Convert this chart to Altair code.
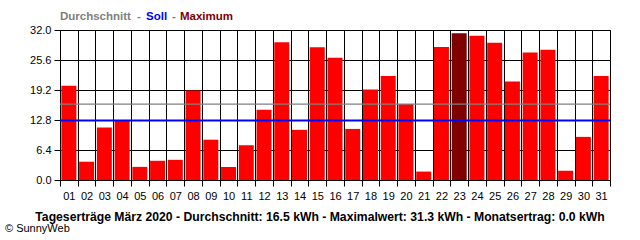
import altair as alt
import pandas as pd

days = [f"{i:02d}" for i in range(1, 32)]
values = [20.1, 3.9, 11.2, 12.7, 2.8, 4.1, 4.3, 19.1, 8.6, 2.8, 7.4, 15.0, 29.4, 10.7, 28.3,
          26.1, 10.9, 19.3, 22.2, 16.2, 1.8, 28.4, 31.3, 30.8, 29.3, 21.0, 27.2, 27.8, 2.0, 9.2, 22.2]
average_level = [16.2]
target_level = [12.7]
y_ticks = [0.0, 6.4, 12.8, 19.2, 25.6, 32.0]

legend_parts = ["Durchschnitt", "-", "Soll", "-", "Maximum"]
legend_colors = ["#808080", "#808080", "#0000ff", "#808080", "#800000"]
legend_x = [0, 77, 86, 112, 120]

bottom_title = "Tageserträge März 2020 - Durchschnitt: 16.5 kWh - Maximalwert: 31.3 kWh - Monatsertrag: 0.0 kWh"
credit = "© SunnyWeb"

vmax = max(values)
df = pd.DataFrame({"day": days, "value": values,
                   "kind": ["max" if v == vmax else "normal" for v in values]})

FONT = "Liberation Sans"

y_axis = alt.Axis(title=None, values=y_ticks, tickCount=20, format=".1f", grid=True,
                  gridColor="black", gridOpacity=1, gridWidth=1,
                  tickColor="black", tickSize=6, labelPadding=3,
                  labelFont=FONT, labelFontSize=11, labelColor="black",
                  domainColor="black", labelOverlap=False)
y_scale = alt.Scale(domain=[0, 32], nice=False, zero=True)

bars = alt.Chart(df).mark_bar(width={"band": 0.845}).encode(
    x=alt.X("day:N", sort=days,
            scale=alt.Scale(paddingInner=0, paddingOuter=0),
            axis=alt.Axis(title=None, tickBand="extent", labelAngle=0, grid=True,
                          gridColor="black", gridOpacity=1, gridWidth=1,
                          tickColor="black", tickSize=6, labelPadding=4,
                          labelFont=FONT, labelFontSize=11, labelColor="black",
                          domainColor="black", labelOverlap=False)),
    y=alt.Y("value:Q", scale=y_scale, axis=y_axis),
    color=alt.Color("kind:N", scale=alt.Scale(domain=["normal", "max"], range=["#ff0000", "#800000"]),
                    legend=None),
)

avg_rule = alt.Chart(pd.DataFrame({"y": average_level})).mark_rule(
    color="#808080", strokeWidth=1.2).encode(y=alt.Y("y:Q", scale=y_scale, axis=y_axis))
soll_rule = alt.Chart(pd.DataFrame({"y": target_level})).mark_rule(
    color="#0000ff", strokeWidth=2).encode(y=alt.Y("y:Q", scale=y_scale, axis=y_axis))

legend_df = pd.DataFrame({"t": legend_parts, "c": legend_colors, "px": legend_x})
legend_text = alt.Chart(legend_df).mark_text(
    font=FONT, fontSize=11.5, fontWeight="bold", align="left", baseline="alphabetic"
).encode(
    x=alt.X("px:Q", scale=None), y=alt.value(-10), text="t:N",
    color=alt.Color("c:N", scale=None),
)

title_text = alt.Chart(pd.DataFrame({"t": [bottom_title]})).mark_text(
    font=FONT, fontSize=12.2, fontWeight="bold", align="center", baseline="alphabetic", color="black"
).encode(x=alt.value(260), y=alt.value(191), text="t:N")

credit_text = alt.Chart(pd.DataFrame({"t": [credit]})).mark_text(
    font=FONT, fontSize=11, align="left", baseline="alphabetic", color="black"
).encode(x=alt.value(-55), y=alt.value(202), text="t:N")

chart = alt.layer(bars, avg_rule, soll_rule, legend_text, title_text, credit_text).properties(
    width=550, height=150,
    padding={"left": 60, "top": 30, "right": 30, "bottom": 60},
    autosize="none",
    background="white",
).configure_view(stroke="black", strokeWidth=1)

chart.save("out.html", embed_options={"renderer": "svg", "actions": False})
